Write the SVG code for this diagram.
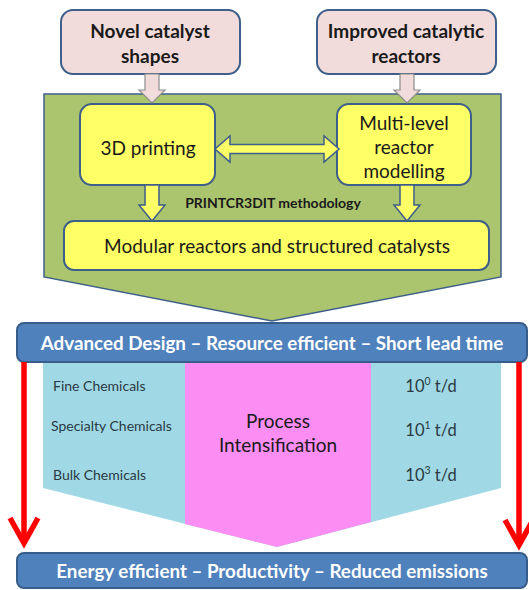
<svg xmlns="http://www.w3.org/2000/svg" width="529" height="590" viewBox="0 0 529 590">
  <style>
    text { font-family: Lato, "Open Sans", "Liberation Sans", sans-serif; fill: #1a1a1a; text-anchor: middle; }
    .inbox { fill: #f2dcdb; stroke: #3e5f8a; stroke-width: 2; }
    .step { fill: #ffff66; stroke: #3e5f8a; stroke-width: 2; }
    .banner { fill: #4f81bd; stroke: #385d8a; stroke-width: 2; }
    .btext { fill: #ffffff; font-weight: bold; font-size: 18.8px; }
    .head { font-size: 19px; font-weight: bold; }
    .lbl { font-size: 19px; }
    .pinkArrow { fill: #f2dcdb; stroke: #8c8c8c; stroke-width: 1.2; }
    .yelArrow { fill: #ffff66; stroke: #3e5f8a; stroke-width: 1.5; }
    .red { fill: none; stroke: #ff0000; stroke-width: 5.5; stroke-linejoin: miter; }
    .small { font-size: 14px; text-anchor: start; fill: #2a3a44; }
    .rate { font-size: 16.5px; fill: #2a3a44; }
  </style>

  <!-- lower funnel: scale ranges and process intensification -->
  <g id="scales">
    <path d="M43,362 H501 V488 L277,547 L43,488 Z" fill="#a0d9e5"/>
    <path d="M185,362 H371 V522 L277,547 L185,524 Z" fill="#fc8ef3"/>
    <text class="small" x="53" y="391">Fine Chemicals</text>
    <text class="small" x="51" y="431">Specialty Chemicals</text>
    <text class="small" x="53" y="480">Bulk Chemicals</text>
    <text x="278" y="428" font-size="19">Process</text>
    <text x="278" y="452" font-size="19">Intensification</text>
    <text class="rate" x="431" y="392">10<tspan font-size="10.5" dy="-7">0</tspan><tspan dy="7"> t/d</tspan></text>
    <text class="rate" x="431" y="436">10<tspan font-size="10.5" dy="-7">1</tspan><tspan dy="7"> t/d</tspan></text>
    <text class="rate" x="431" y="481">10<tspan font-size="10.5" dy="-7">3</tspan><tspan dy="7"> t/d</tspan></text>
  </g>

  <!-- methodology block -->
  <g id="methodology">
    <path d="M44,94 H501 V277 L272,321 L44,277 Z" fill="#abc46e" stroke="#3e5f8a" stroke-width="1.5"/>
    <text x="273" y="208" font-size="14" font-weight="bold">PRINTCR3DIT methodology</text>
  </g>

  <g id="novel-shapes">
    <rect class="inbox" x="61" y="10" width="179" height="64" rx="12"/>
    <text class="head" x="150" y="38">Novel catalyst</text>
    <text class="head" x="150" y="63">shapes</text>
  </g>

  <g id="improved-reactors">
    <rect class="inbox" x="317" y="10" width="179" height="64" rx="12"/>
    <text class="head" x="406" y="38">Improved catalytic</text>
    <text class="head" x="406" y="63">reactors</text>
  </g>

  <g id="printing">
    <rect class="step" x="80" y="104" width="135" height="81" rx="12"/>
    <text class="lbl" x="148" y="155">3D printing</text>
  </g>

  <g id="modelling">
    <rect class="step" x="337" y="104" width="134" height="81" rx="12"/>
    <text class="lbl" x="404" y="130">Multi-level</text>
    <text class="lbl" x="404" y="154">reactor</text>
    <text class="lbl" x="404" y="178">modelling</text>
  </g>

  <g id="modular">
    <rect class="step" x="64" y="221" width="425" height="49" rx="10"/>
    <text class="lbl" x="277" y="253">Modular reactors and structured catalysts</text>
  </g>

  <g id="design-banner">
    <rect class="banner" x="17" y="323" width="510" height="39" rx="7"/>
    <text class="btext" x="272" y="350">Advanced Design – Resource efficient – Short lead time</text>
  </g>

  <g id="outcome-banner">
    <rect class="banner" x="17" y="553" width="510" height="35" rx="7"/>
    <text class="btext" x="272" y="578">Energy efficient – Productivity – Reduced emissions</text>
  </g>

  <!-- connectors -->
  <g id="connectors">
    <path class="pinkArrow" d="M145,74 H159 V90 H165 L152,103 L139,90 H145 Z"/>
    <path class="pinkArrow" d="M400,74 H414 V90 H420 L407,103 L394,90 H400 Z"/>
    <path class="yelArrow" d="M145,185 H159 V205 H165 L152,221 L139,205 H145 Z"/>
    <path class="yelArrow" d="M400,185 H414 V205 H420 L407,221 L394,205 H400 Z"/>
    <path class="yelArrow" d="M215,149 L230,136 V144.5 H324 V136 L339,149 L324,162 V153.5 H230 V162 Z"/>
    <path class="red" d="M24,362 V541"/>
    <path class="red" d="M10,518 L24,543 L38,518"/>
    <path class="red" d="M519,362 V543"/>
    <path class="red" d="M505,520 L519,545 L533,520"/>
  </g>
</svg>
